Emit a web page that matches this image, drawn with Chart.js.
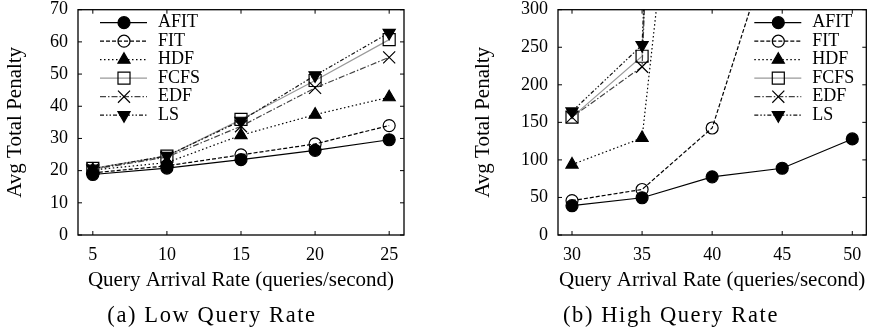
<!DOCTYPE html>
<html>
<head>
<meta charset="utf-8">
<script src="https://cdn.jsdelivr.net/npm/chart.js@4/dist/chart.umd.min.js"></script>
<style>
  html, body { margin: 0; padding: 0; background: #fff; }
  #wrap { position: relative; width: 876px; height: 333px; overflow: hidden; }
  .panel { position: absolute; top: 0; width: 438px; height: 333px; }
  .caption {
    position: absolute; top: 303px; height: 24px; line-height: 24px;
    font-family: "Liberation Serif", serif; font-size: 22.5px;
    letter-spacing: 1.6px;
    white-space: nowrap; transform: translateX(-50%); color: #000;
  }
</style>
</head>
<body>
<div id="wrap">
  <div class="panel" style="left:0"><canvas id="low" width="438" height="333"></canvas></div>
  <div class="panel" style="left:438px"><canvas id="high" width="438" height="333"></canvas></div>
  <div class="caption" style="left:212px">(a) Low Query Rate</div>
  <div class="caption" style="left:671px">(b) High Query Rate</div>
</div>
<script>
// ---- data ----
const seriesNames = ['AFIT', 'FIT', 'HDF', 'FCFS', 'EDF', 'LS'];

const lowRates = [5, 10, 15, 20, 25];
const lowAFIT = [18.8, 20.8, 23.4, 26.3, 29.6];
const lowFIT  = [19.3, 21.5, 24.9, 28.3, 34.0];
const lowHDF  = [20.2, 22.5, 31.0, 37.4, 42.8];
const lowFCFS = [20.7, 24.5, 35.9, 48.0, 60.7];
const lowEDF  = [20.4, 24.2, 33.8, 45.7, 55.2];
const lowLS   = [20.6, 24.6, 35.5, 49.6, 62.8];
const lowYTicks = [0, 10, 20, 30, 40, 50, 60, 70];

const highRates = [30, 35, 40, 45, 50];
const highAFIT = [39.0, 49.6, 77.4, 88.9, 127.9];
const highFIT  = [45.8, 60.6, 142.5, 434, null];
const highHDF  = [93.8, 129.2, 970, null, null];
const highFCFS = [157, 238, 2500, null, null];
const highEDF  = [157, 224, 2500, null, null];
const highLS   = [164.6, 253, 2500, null, null];
const highYTicks = [0, 50, 100, 150, 200, 250, 300];

// ---- line / marker styles per algorithm ----
const seriesStyle = {
  AFIT: { color: '#000', dash: [],                  shape: 'circle',   radius: 6,   fill: '#000', rot: 0 },
  FIT:  { color: '#000', dash: [4, 2],              shape: 'circle',   radius: 6,   fill: 'rgba(0,0,0,0)', rot: 0 },
  HDF:  { color: '#000', dash: [1.5, 2.5],          shape: 'triangle', radius: 7,   fill: '#000', rot: 0 },
  FCFS: { color: '#9a9a9a', dash: [],               shape: 'rect',     radius: 8.5, fill: 'rgba(0,0,0,0)', rot: 0 },
  EDF:  { color: '#444', dash: [6, 2, 1.5, 2],      shape: 'crossRot', radius: 8.5, fill: 'rgba(0,0,0,0)', rot: 0 },
  LS:   { color: '#111', dash: [4, 2, 1.5, 2, 1.5, 2], shape: 'triangle', radius: 7, fill: '#000', rot: 180 }
};

const SERIF = '"Liberation Serif", "Times New Roman", serif';

function makeDatasets(rates, valueLists) {
  return seriesNames.map((name, i) => {
    const s = seriesStyle[name];
    return {
      label: name,
      data: rates.map((x, k) => ({ x: x, y: valueLists[i][k] })),
      borderColor: s.color,
      borderWidth: 1.2,
      borderDash: s.dash,
      pointStyle: s.shape,
      pointRadius: s.radius,
      pointRotation: s.rot,
      pointBackgroundColor: s.fill,
      pointBorderColor: '#000',
      pointBorderWidth: 1.2,
      tension: 0,
      spanGaps: false,
      order: seriesNames.length - i
    };
  });
}

// Frame with inward ticks on all four sides, plus a gnuplot-style key
const frameAndKey = {
  id: 'frameAndKey',
  afterDatasetsDraw(chart) {
    const { ctx, chartArea: a, scales } = chart;
    const tl = 4;
    ctx.save();
    ctx.strokeStyle = '#000';
    ctx.lineWidth = 1.3;
    ctx.setLineDash([]);
    ctx.strokeRect(a.left, a.top, a.right - a.left, a.bottom - a.top);
    ctx.lineWidth = 1;
    ctx.beginPath();
    scales.x.ticks.forEach(t => {
      const px = scales.x.getPixelForValue(t.value);
      ctx.moveTo(px, a.bottom); ctx.lineTo(px, a.bottom - tl);
      ctx.moveTo(px, a.top); ctx.lineTo(px, a.top + tl);
    });
    scales.y.ticks.forEach(t => {
      const py = scales.y.getPixelForValue(t.value);
      ctx.moveTo(a.left, py); ctx.lineTo(a.left + tl, py);
      ctx.moveTo(a.right, py); ctx.lineTo(a.right - tl, py);
    });
    ctx.stroke();
    ctx.restore();
  },
  afterDraw(chart, args, opts) {
    const { ctx, chartArea: a } = chart;
    const side = opts.side || 'left';
    const x0 = side === 'left' ? a.left + 22 : a.right - 112;
    const x1 = x0 + 47;
    const xm = x0 + 24;
    const xt = side === 'left' ? a.left + 80 : a.right - 54;
    ctx.save();
    chart.data.datasets.forEach((ds, i) => {
      const y = a.top + 13 + i * 18.5;
      ctx.strokeStyle = ds.borderColor;
      ctx.lineWidth = ds.borderWidth;
      ctx.setLineDash(ds.borderDash);
      ctx.beginPath();
      ctx.moveTo(x0, y); ctx.lineTo(x1, y);
      ctx.stroke();
      ctx.setLineDash([]);
      ctx.fillStyle = ds.pointBackgroundColor;
      ctx.strokeStyle = ds.pointBorderColor;
      ctx.lineWidth = ds.pointBorderWidth;
      Chart.helpers.drawPoint(ctx, {
        pointStyle: ds.pointStyle, rotation: ds.pointRotation,
        radius: ds.pointRadius, borderWidth: ds.pointBorderWidth
      }, xm, y);
      ctx.fillStyle = '#000';
      ctx.font = '18px ' + SERIF;
      ctx.textAlign = 'left';
      ctx.textBaseline = 'middle';
      ctx.fillText(ds.label, xt, y);
    });
    ctx.restore();
  }
};

function makeChart(id, cfg) {
  return new Chart(document.getElementById(id), {
    type: 'line',
    data: { datasets: makeDatasets(cfg.rates, cfg.values) },
    options: {
      responsive: false,
      animation: false,
      layout: { padding: { left: 0, top: 9, right: cfg.padRight, bottom: 0 } },
      plugins: {
        legend: { display: false },
        tooltip: { enabled: false },
        frameAndKey: { side: cfg.keySide }
      },
      scales: {
        x: {
          type: 'linear',
          min: cfg.xMin, max: cfg.xMax,
          grid: { display: false, drawTicks: false },
          border: { display: false },
          afterBuildTicks: s => { s.ticks = cfg.rates.map(v => ({ value: v })); },
          afterFit: s => { s.height = 98; s.paddingLeft = 0; s.paddingRight = 0; },
          ticks: {
            padding: 9, color: '#000', maxRotation: 0,
            font: { family: SERIF, size: 18, lineHeight: 1.2 }
          },
          title: {
            display: true, text: 'Query Arrival Rate (queries/second)', color: '#000',
            font: { family: SERIF, size: 21, lineHeight: 1.2 },
            padding: { top: 0, bottom: 40 }
          }
        },
        y: {
          type: 'linear',
          min: cfg.yTicks[0], max: cfg.yTicks[cfg.yTicks.length - 1],
          grid: { display: false, drawTicks: false },
          border: { display: false },
          afterBuildTicks: s => { s.ticks = cfg.yTicks.map(v => ({ value: v })); },
          afterFit: s => { s.width = cfg.yWidth; s.paddingTop = 0; s.paddingBottom = 0; },
          ticks: {
            padding: 10, color: '#000',
            font: { family: SERIF, size: 18, lineHeight: 1.2 }
          },
          title: {
            display: true, text: 'Avg Total Penalty', color: '#000',
            font: { family: SERIF, size: 21, lineHeight: 1.2 },
            padding: { top: cfg.yTitlePad, bottom: 0 }
          }
        }
      }
    },
    plugins: [frameAndKey]
  });
}

makeChart('low', {
  rates: lowRates,
  values: [lowAFIT, lowFIT, lowHDF, lowFCFS, lowEDF, lowLS],
  xMin: 4, xMax: 26, yTicks: lowYTicks,
  yWidth: 78, yTitlePad: 3, padRight: 34, keySide: 'left'
});

makeChart('high', {
  rates: highRates,
  values: [highAFIT, highFIT, highHDF, highFCFS, highEDF, highLS],
  xMin: 29, xMax: 51, yTicks: highYTicks,
  yWidth: 120, yTitlePad: 33, padRight: 3, keySide: 'right'
});
</script>
</body>
</html>
